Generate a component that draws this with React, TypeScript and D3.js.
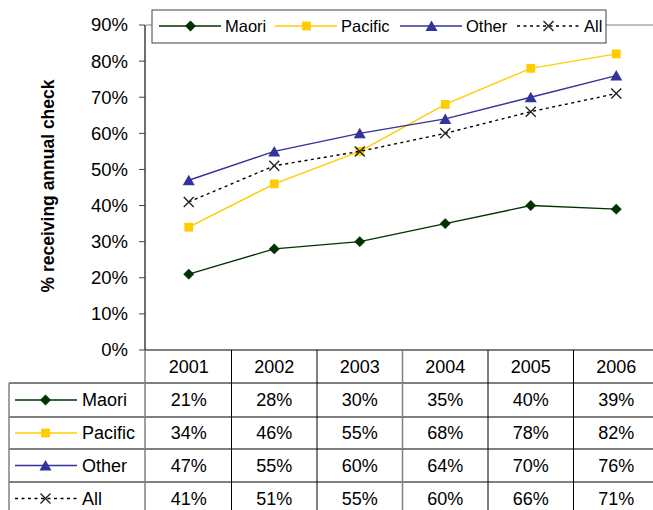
import React from "react";
import * as d3 from "d3";

const years = ["2001", "2002", "2003", "2004", "2005", "2006"];
const maori = [0.21, 0.28, 0.30, 0.35, 0.40, 0.39];
const pacific = [0.34, 0.46, 0.55, 0.68, 0.78, 0.82];
const other = [0.47, 0.55, 0.60, 0.64, 0.70, 0.76];
const all = [0.41, 0.51, 0.55, 0.60, 0.66, 0.71];
const yTicks = [0, 0.1, 0.2, 0.3, 0.4, 0.5, 0.6, 0.7, 0.8, 0.9];
const seriesNames = ["Maori", "Pacific", "Other", "All"];

type Series = { name: string; values: number[]; color: string; dash?: string; marker: string };

const series: Series[] = [
  { name: seriesNames[0], values: maori, color: "#003300", marker: "diamond" },
  { name: seriesNames[1], values: pacific, color: "#FFCC00", marker: "square" },
  { name: seriesNames[2], values: other, color: "#333399", marker: "triangle" },
  { name: seriesNames[3], values: all, color: "#000000", dash: "3,3.5", marker: "x" },
];

const FONT = "'Liberation Sans', Arial, sans-serif";

function Marker({ type, x, y, color }: { type: string; x: number; y: number; color: string }) {
  if (type === "diamond") {
    const s = 5.2;
    return <path d={`M${x},${y - s}L${x + s},${y}L${x},${y + s}L${x - s},${y}Z`} fill={color} stroke={color} strokeWidth={0.5} />;
  }
  if (type === "square") {
    const s = 4.4;
    return <rect x={x - s} y={y - s} width={2 * s} height={2 * s} fill={color} />;
  }
  if (type === "triangle") {
    const s = 6;
    return <path d={`M${x},${y - 5.5}L${x + s},${y + 5}L${x - s},${y + 5}Z`} fill={color} />;
  }
  const s = 5;
  return (
    <path d={`M${x - s},${y - s}L${x + s},${y + s}M${x - s},${y + s}L${x + s},${y - s}`} stroke="#222" strokeWidth={1.4} fill="none" />
  );
}

export default function App() {
  const W = 653, H = 510;
  const left = 146, right = 659;
  const top = 25, bottom = 350;
  const x = d3.scaleBand().domain(years).range([left, right]);
  const y = d3.scaleLinear().domain([0, 0.9]).range([bottom, top]);
  const fmt = d3.format(".0%");
  const cx = (i: number) => (x(years[i]) as number) + x.bandwidth() / 2;
  const line = d3.line<number>().x((_, i) => cx(i)).y((d) => y(d));

  const rowTops = [350, 383, 417, 449, 482, 515];
  const tableLeft = 9;

  const legendItems = [
    { x0: 159, tx: 225 },
    { x0: 275, tx: 341 },
    { x0: 400, tx: 466 },
    { x0: 517, tx: 584 },
  ];
  const legendCy = 26;

  return (
    <svg width={W} height={H} style={{ position: "absolute", left: 0, top: 0 }} fontFamily={FONT}>
      <rect width={W} height={H} fill="#fff" />
      {/* plot border top */}
      <line x1={left} x2={W} y1={top} y2={top} stroke="#808080" strokeWidth={1} />
      {/* y axis */}
      <line x1={145} x2={145} y1={top} y2={bottom} stroke="#404040" strokeWidth={1.5} />
      {yTicks.map((t) => (
        <g key={t}>
          <line x1={139} x2={145} y1={y(t)} y2={y(t)} stroke="#404040" />
          <text x={128} y={y(t)} dy="0.35em" textAnchor="end" fontSize={18.5} fill="#000">
            {fmt(t)}
          </text>
        </g>
      ))}
      <text
        transform={`translate(48,186) rotate(-90)`}
        textAnchor="middle"
        dy="0.35em"
        fontSize={17.5}
        fontWeight="bold"
      >
        % receiving annual check
      </text>

      {/* lines */}
      {series.map((s) => (
        <g key={s.name}>
          <path d={line(s.values) || ""} fill="none" stroke={s.color} strokeWidth={1.4} strokeDasharray={s.dash} />
          {s.values.map((v, i) => (
            <Marker key={i} type={s.marker} x={cx(i)} y={y(v)} color={s.color} />
          ))}
        </g>
      ))}

      {/* legend */}
      <rect x={152} y={10} width={454} height={33} fill="#fff" stroke="#404040" strokeWidth={1} />
      {series.map((s, i) => {
        const it = legendItems[i];
        return (
          <g key={s.name}>
            <line x1={it.x0} x2={it.x0 + 62} y1={legendCy} y2={legendCy} stroke={s.color} strokeWidth={1.4} strokeDasharray={s.dash} />
            <Marker type={s.marker} x={it.x0 + 31.5} y={legendCy} color={s.color} />
            <text x={it.tx} y={legendCy} dy="0.35em" fontSize={16.5}>
              {s.name}
            </text>
          </g>
        );
      })}

      {/* data table */}
      <line x1={145} x2={W} y1={bottom} y2={bottom} stroke="#000" strokeWidth={1.2} />
      {rowTops.slice(1).map((ry) => (
        <line key={ry} x1={tableLeft} x2={W} y1={ry} y2={ry} stroke="#000" strokeWidth={1} />
      ))}
      <line x1={tableLeft} x2={tableLeft} y1={rowTops[1]} y2={H} stroke="#808080" strokeWidth={1.5} />
      <line x1={145} x2={145} y1={bottom} y2={H} stroke="#808080" strokeWidth={1.5} />
      {years.slice(1).map((yr, i) => (
        <line
          key={yr}
          x1={x(yr) as number}
          x2={x(yr) as number}
          y1={bottom}
          y2={H}
          stroke={i === 2 ? "#808080" : "#000"}
          strokeWidth={i === 2 ? 1.5 : 1}
        />
      ))}
      {years.map((yr, i) => (
        <text key={yr} x={cx(i)} y={(rowTops[0] + rowTops[1]) / 2} dy="0.35em" textAnchor="middle" fontSize={18}>
          {yr}
        </text>
      ))}
      {series.map((s, r) => {
        const cy = (rowTops[r + 1] + rowTops[r + 2]) / 2;
        return (
          <g key={s.name}>
            <line x1={15} x2={77} y1={cy} y2={cy} stroke={s.color} strokeWidth={1.4} strokeDasharray={s.dash} />
            <Marker type={s.marker} x={45.5} y={cy} color={s.color} />
            <text x={82} y={cy} dy="0.35em" fontSize={18}>
              {s.name}
            </text>
            {s.values.map((v, i) => (
              <text key={i} x={cx(i)} y={cy} dy="0.35em" textAnchor="middle" fontSize={18}>
                {fmt(v)}
              </text>
            ))}
          </g>
        );
      })}
    </svg>
  );
}
